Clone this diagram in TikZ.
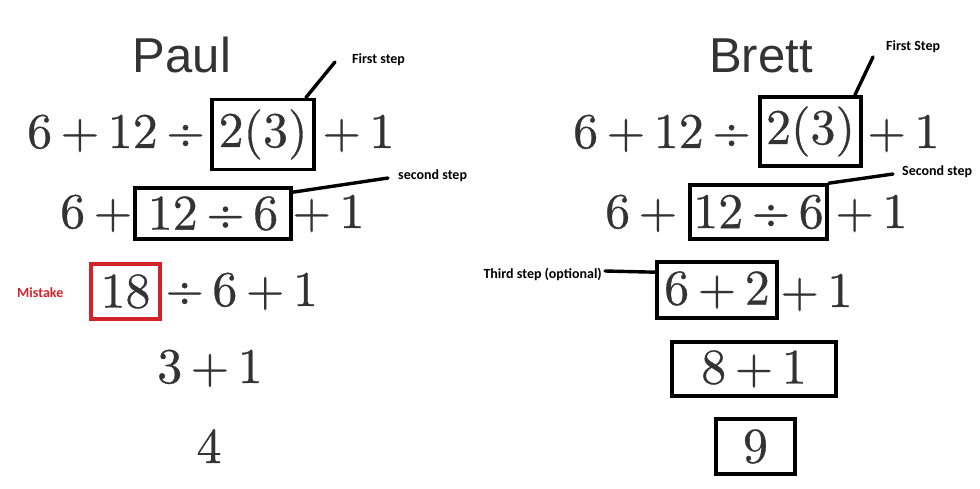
\documentclass[tikz,border=0pt]{standalone}
\usepackage{fontspec}
\newfontfamily\headfont{Liberation Sans}
\newfontfamily\notefont{Carlito}
\newfontfamily\exprfont{lmroman10-regular.otf}[FakeBold=0.6]
\definecolor{inkgray}{HTML}{333333}
\definecolor{mistakered}{HTML}{D2232A}

\begin{document}
\begin{tikzpicture}[x=1pt,y=-1pt,
  expr/.style={inner sep=0pt,text=inkgray,font=\exprfont\fontsize{50}{58}\selectfont},
  stepbox/.style={draw=black,line width=3.6pt,inner sep=0pt,text=inkgray,font=\exprfont\fontsize{50}{58}\selectfont},
  mistakebox/.style={stepbox,draw=mistakered},
  headline/.style={inner sep=0pt,anchor=base,text=inkgray,font=\headfont\fontsize{49}{56}\selectfont},
  note/.style={inner sep=0pt,font=\notefont\bfseries\fontsize{14}{17}\selectfont},
  leader/.style={line width=3.4pt,line cap=round}]
  \useasboundingbox (0,0) rectangle (980,489);

  % Paul
  \node[headline] (paul) at (182,73) {Paul};
  \node[expr,anchor=base west] (p1a) at (27,148) {6\,+\,12\,÷};
  \node[stepbox,minimum width=102pt,minimum height=70pt] (p1b) at (263,134.5) {2(3)};
  \node[expr,anchor=base west] (p1c) at (322,148) {+\,1};
  \node[expr,anchor=base west] (p2a) at (60,228) {6\,+};
  \node[stepbox,minimum width=156pt,minimum height=51pt] (p2b) at (213,213.5) {12\,÷\,6};
  \node[expr,anchor=base west] (p2c) at (292,228) {+\,1};
  \node[note,text=mistakered,anchor=base west] (mistake) at (17,298) {Mistake};
  \node[mistakebox,minimum width=69pt,minimum height=55pt] (p3b) at (125.5,291.5) {18};
  \node[expr,anchor=base west] (p3c) at (165,306) {÷\,6\,+\,1};
  \node[expr,anchor=base west] (p4) at (157,383) {3\,+\,1};
  \node[expr,anchor=base] (p5) at (209,463) {4};

  \node[note,anchor=base west] (pfirst) at (352,64) {First step};
  \node[note,anchor=base west] (psecond) at (398,180) {second step};
  \coordinate (pfirstend) at (335,62);
  \coordinate (psecondend) at (388,178);
  \draw[leader] ([xshift=-10pt]p1b.north east) -- (pfirstend);
  \draw[leader] ([yshift=-6pt]p2b.north east) -- (psecondend);

  % Brett
  \node[headline] (brett) at (761,73) {Brett};
  \node[expr,anchor=base west] (b1a) at (573,148) {6\,+\,12\,÷};
  \node[stepbox,minimum width=101pt,minimum height=69pt] (b1b) at (810.5,131.5) {2(3)};
  \node[expr,anchor=base west] (b1c) at (867,148) {+\,1};
  \node[expr,anchor=base west] (b2a) at (605,228) {6\,+};
  \node[stepbox,minimum width=137pt,minimum height=54pt] (b2b) at (758.5,212) {12\,÷\,6};
  \node[expr,anchor=base west] (b2c) at (835,228) {+\,1};
  \node[stepbox,minimum width=120pt,minimum height=56pt] (b3b) at (717,290) {6\,+\,2};
  \node[expr,anchor=base west] (b3c) at (780,307) {+\,1};
  \node[stepbox,minimum width=164pt,minimum height=54pt] (b4) at (754,369) {8\,+\,1};
  \node[stepbox,minimum width=79pt,minimum height=55pt] (b5) at (755.5,446.5) {9};

  \node[note,anchor=base west] (bfirst) at (886,51) {First Step};
  \node[note,anchor=base west] (bsecond) at (902,176) {Second step};
  \node[note,anchor=base east] (bthird) at (602,278) {Third step (optional)};
  \coordinate (bfirstend) at (873,57);
  \coordinate (bsecondend) at (893,174);
  \coordinate (bthirdend) at (605,271);
  \draw[leader] ([xshift=-8pt]b1b.north east) -- (bfirstend);
  \draw[leader] (b2b.north east) -- (bsecondend);
  \draw[leader] ([yshift=-12pt]b3b.north west) -- (bthirdend);
\end{tikzpicture}
\end{document}
